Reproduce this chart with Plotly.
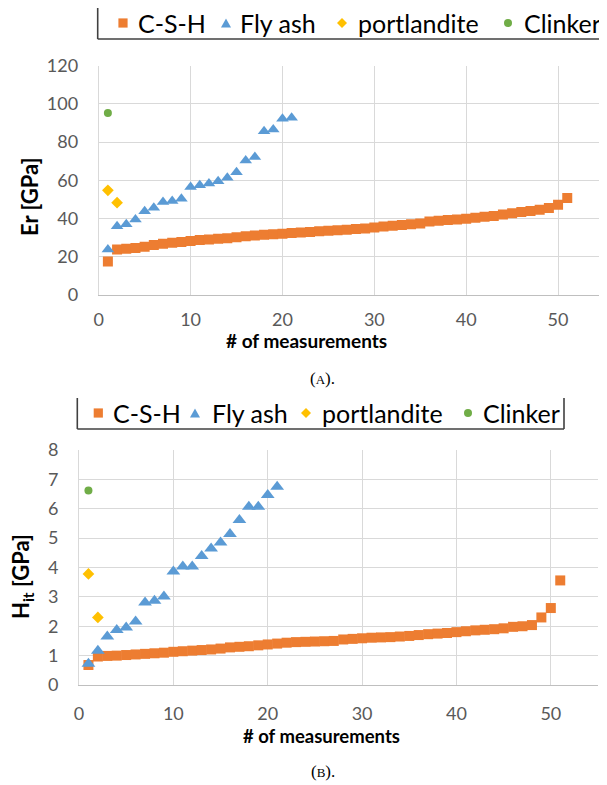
import plotly.graph_objects as go

# ---------------- data ----------------
series_names = ["C-S-H", "Fly ash", "portlandite", "Clinker"]

er_csh = [17.5, 23.8, 24.2, 24.6, 25.3, 26.2, 26.8, 27.3, 27.8, 28.3,
          28.8, 29.1, 29.4, 29.7, 30.2, 30.7, 31.2, 31.5, 31.8, 32.1,
          32.4, 32.7, 33.0, 33.3, 33.6, 33.9, 34.2, 34.5, 34.8, 35.3,
          35.8, 36.2, 36.6, 37.0, 37.4, 38.4, 38.9, 39.2, 39.5, 39.9,
          40.4, 40.9, 41.4, 42.1, 42.8, 43.5, 44.0, 44.6, 45.5, 47.2, 50.8]
er_fly = [23.8, 36.0, 37.0, 39.5, 43.8, 45.7, 48.7, 49.2, 50.4, 56.5,
          57.4, 58.3, 59.5, 61.4, 64.3, 70.4, 72.2, 85.7, 86.6, 92.2, 92.7]
er_port = [54.8, 48.3]
er_clinker = [95.3]

hit_csh = [0.68, 0.97, 0.99, 1.00, 1.02, 1.04, 1.06, 1.08, 1.10, 1.13,
           1.15, 1.17, 1.19, 1.21, 1.24, 1.28, 1.30, 1.32, 1.35, 1.38,
           1.41, 1.44, 1.46, 1.47, 1.48, 1.49, 1.50, 1.55, 1.57, 1.59,
           1.61, 1.62, 1.63, 1.65, 1.67, 1.70, 1.73, 1.75, 1.77, 1.80,
           1.83, 1.86, 1.88, 1.90, 1.93, 1.98, 2.00, 2.04, 2.30, 2.62, 3.56]
hit_fly = [0.72, 1.17, 1.65, 1.87, 1.96, 2.16, 2.81, 2.87, 3.01, 3.86,
           4.03, 4.03, 4.39, 4.65, 4.85, 5.14, 5.62, 6.07, 6.07, 6.47, 6.75]
hit_port = [3.78, 2.30]
hit_clinker = [6.62]

x_ticks = [0, 10, 20, 30, 40, 50]
er_ticks = [0, 20, 40, 60, 80, 100, 120]
hit_ticks = [0, 1, 2, 3, 4, 5, 6, 7, 8]

# ---------------- style ----------------
OFF = 8                      # page body margin in the browser
W, H = 607 - OFF, 785 - OFF
COL = {"C-S-H": "#ED7D31", "Fly ash": "#5B9BD5", "portlandite": "#FFC000", "Clinker": "#70AD47"}
SYM = {"C-S-H": "square", "Fly ash": "triangle-up", "portlandite": "diamond", "Clinker": "circle"}
GRID = "#d9d9d9"
TICKC = "#595959"
FONT = "Lato"


def px(x):
    return (x - OFF) / W


def py(y):
    return 1 - (y - OFF) / H


def idx(vals):
    return list(range(1, len(vals) + 1))


fig = go.Figure()

top = {"C-S-H": er_csh, "Fly ash": er_fly, "portlandite": er_port, "Clinker": er_clinker}
bot = {"C-S-H": hit_csh, "Fly ash": hit_fly, "portlandite": hit_port, "Clinker": hit_clinker}
size_top = {"C-S-H": 10, "Fly ash": 11, "portlandite": 9, "Clinker": 8}
size_bot = {"C-S-H": 10, "Fly ash": 12, "portlandite": 9, "Clinker": 8}

for name in series_names:
    fig.add_trace(go.Scatter(x=idx(top[name]), y=top[name], mode="markers", name=name,
                             marker=dict(symbol=SYM[name], color=COL[name], size=size_top[name], line=dict(width=0)),
                             xaxis="x", yaxis="y", showlegend=False))
for name in series_names:
    fig.add_trace(go.Scatter(x=idx(bot[name]), y=bot[name], mode="markers", name=name,
                             marker=dict(symbol=SYM[name], color=COL[name], size=size_bot[name], line=dict(width=0)),
                             xaxis="x2", yaxis="y2", showlegend=False))

axis_common = dict(showgrid=True, gridcolor=GRID, gridwidth=1, zeroline=False, ticks="",
                   tickfont=dict(family=FONT, size=18, color=TICKC))

fig.update_layout(
    width=W, height=H, margin=dict(l=0, r=0, t=0, b=0, autoexpand=False),
    paper_bgcolor="white", plot_bgcolor="white", showlegend=False,
    xaxis=dict(domain=[px(98.7), px(604)], range=[0, 55], tickvals=x_ticks, anchor="y",
               showline=True, linecolor="#bfbfbf", linewidth=1, ticklabelstandoff=8, **axis_common),
    yaxis=dict(domain=[py(295), py(65.7)], range=[0, 120], tickvals=er_ticks, anchor="x",
               showline=True, linecolor=GRID, linewidth=1, ticklabelstandoff=16, **axis_common),
    xaxis2=dict(domain=[px(79), px(598)], range=[0, 55], tickvals=x_ticks, anchor="y2",
                showline=True, linecolor="#bfbfbf", linewidth=1, ticklabelstandoff=12, **axis_common),
    yaxis2=dict(domain=[py(685), py(450)], range=[0, 8], tickvals=hit_ticks, anchor="x2",
                showline=True, linecolor=GRID, linewidth=1, ticklabelstandoff=16, **axis_common),
)

ann = []
# axis titles
ann.append(dict(text="<b>Er [GPa]</b>", x=px(30), y=py(197), textangle=-90,
                font=dict(family=FONT, size=22, color="black")))
ann.append(dict(text="<b># of measurements</b>", x=px(306), y=py(340),
                font=dict(family=FONT, size=19, color="black")))
ann.append(dict(text="<b>H<sub>it</sub> [GPa]</b>", x=px(22), y=py(577), textangle=-90,
                font=dict(family=FONT, size=22, color="black")))
ann.append(dict(text="<b># of measurements</b>", x=px(321), y=py(736),
                font=dict(family=FONT, size=18.5, color="black")))
# captions
ann.append(dict(text="(<span style='font-size:13px'>A</span>).", x=px(322), y=py(378),
                font=dict(family="Liberation Serif", size=17, color="black")))
ann.append(dict(text="(<span style='font-size:13px'>B</span>).", x=px(323), y=py(771),
                font=dict(family="Liberation Serif", size=17, color="black")))

shapes = []


def legend(yc, mk_x, txt_x, box):
    for name, mx, tx in zip(series_names, mk_x, txt_x):
        ann.append(dict(text=name, x=px(tx), y=py(yc), xanchor="left",
                        font=dict(family=FONT, size=25, color="black")))
        c = COL[name]
        if name == "C-S-H":
            s = 4.6
            shapes.append(dict(type="rect", x0=px(mx - s), x1=px(mx + s), y0=py(yc + s), y1=py(yc - s),
                               fillcolor=c, line=dict(width=0)))
        elif name == "Fly ash":
            path = f"M {px(mx-5)} {py(yc+4.5)} L {px(mx+5)} {py(yc+4.5)} L {px(mx)} {py(yc-4.5)} Z"
            shapes.append(dict(type="path", path=path, fillcolor=c, line=dict(width=0)))
        elif name == "portlandite":
            s = 5
            path = (f"M {px(mx)} {py(yc-s)} L {px(mx+s)} {py(yc)} L {px(mx)} {py(yc+s)} "
                    f"L {px(mx-s)} {py(yc)} Z")
            shapes.append(dict(type="path", path=path, fillcolor=c, line=dict(width=0)))
        else:
            r = 4
            shapes.append(dict(type="circle", x0=px(mx - r), x1=px(mx + r), y0=py(yc + r), y1=py(yc - r),
                               fillcolor=c, line=dict(width=0)))
    for (xa, ya, xb, yb) in box:
        shapes.append(dict(type="line", x0=px(xa), y0=py(ya), x1=px(xb), y1=py(yb),
                           line=dict(color="#404040", width=1.6)))


legend(23, [123, 226, 342, 508], [136, 238, 356, 522],
       [(97.7, 8, 97.7, 39), (97.7, 39, 607, 39)])
legend(413, [98.3, 195, 306, 468], [111, 210, 320, 481],
       [(77.3, 398, 77.3, 429), (77.3, 429, 564, 429), (564, 398, 564, 429)])

for s in shapes:
    s.update(xref="paper", yref="paper", layer="above")
for a in ann:
    a.update(xref="paper", yref="paper", showarrow=False)
    a.setdefault("xanchor", "center")
    a.setdefault("yanchor", "middle")
fig.update_layout(annotations=ann, shapes=shapes)

fig.write_html("out.html")
